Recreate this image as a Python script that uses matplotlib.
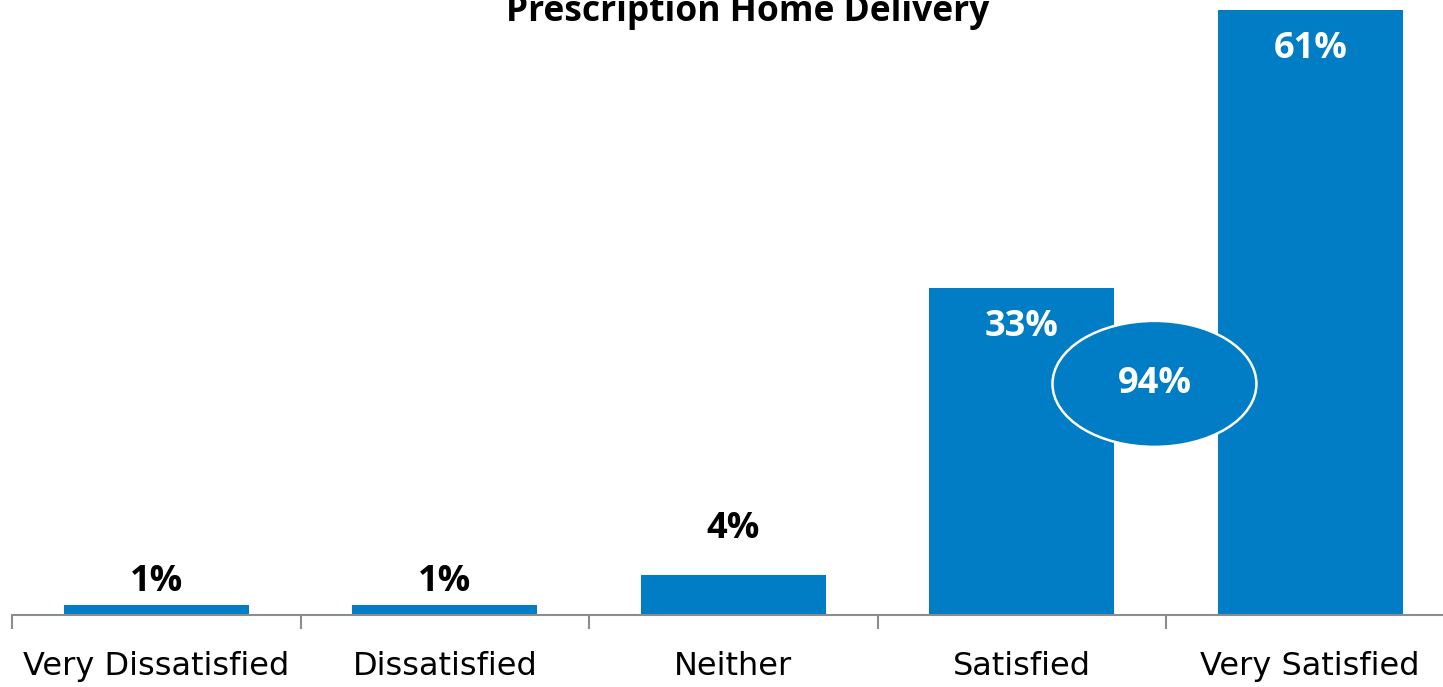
import matplotlib.pyplot as plt
from matplotlib.patches import Ellipse

categories = ['Very Dissatisfied', 'Dissatisfied', 'Neither', 'Satisfied', 'Very Satisfied']
values = [1, 1, 4, 33, 61]
title = 'Prescription Home Delivery'
top_box_total = values[3] + values[4]

bar_color = '#007DC5'
label_font = 'Open Sans'
# vertical offset (pixels) of each value label from the bar top
label_offsets = [23, 23, 46, -39, -39]

fig = plt.figure(figsize=(14.43, 6.87), dpi=100)
ax = fig.add_axes([12 / 1443, 72 / 687, 1442.5 / 1443, 615 / 687])

x = list(range(len(categories)))
ax.bar(x, values, width=0.64, color=bar_color, zorder=2)
ax.set_xlim(-0.5, len(categories) - 0.5)
ax.set_ylim(0, 62)

# axis styling: only the bottom line, ticks between categories
for side in ['top', 'right', 'left']:
    ax.spines[side].set_visible(False)
ax.spines['bottom'].set_color('#8C8C8C')
ax.spines['bottom'].set_linewidth(1.5)
ax.set_yticks([])
ax.set_xticks([i - 0.5 for i in range(len(categories) + 1)])
ax.set_xticklabels([])
ax.tick_params(axis='x', length=10, width=1.5, color='#8C8C8C', direction='out')
ax.set_xticks(x, minor=True)
ax.set_xticklabels(categories, minor=True, fontsize=23, family='DejaVu Sans')
ax.tick_params(axis='x', which='minor', length=0, pad=26)

# data labels
for i, v in enumerate(values):
    off = label_offsets[i]
    ax.annotate(f'{v}%', (i, v), xytext=(0, off), textcoords='offset pixels',
                ha='center', va='center', color='white' if off < 0 else 'black',
                fontsize=26, fontweight='bold', family=label_font)

# combined satisfied bubble
ell = Ellipse((3.46, 23.3), width=0.707, height=12.7, facecolor=bar_color,
              edgecolor='white', linewidth=1.8, zorder=3)
ax.add_patch(ell)
ax.text(3.46, 23.3, f'{top_box_total}%', ha='center', va='center', color='white',
        fontsize=26, fontweight='bold', family=label_font, zorder=4)

fig.text(748 / 1443, 1 - 21 / 687, title, ha='center', va='baseline',
         fontsize=25.5, fontweight='bold', family=label_font)

plt.savefig('out.png', dpi=100)
plt.close()
